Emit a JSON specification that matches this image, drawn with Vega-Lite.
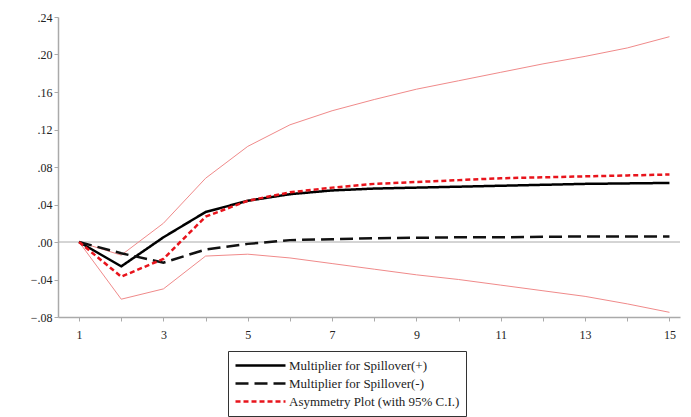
{
  "$schema": "https://vega.github.io/schema/vega-lite/v6.json",
  "autosize": {"type": "none"},
  "width": 622,
  "height": 300,
  "padding": {"left": 58, "top": 17, "right": 11, "bottom": 100},
  "background": "white",
  "config": {
    "view": {"stroke": null},
    "font": "Liberation Serif",
    "axis": {"grid": false, "domainColor": "#aaaaaa", "tickColor": "#aaaaaa", "labelFont": "Liberation Serif", "labelFontSize": 12, "labelColor": "#222222", "tickSize": 4, "domainWidth": 1.5, "labelOverlap": false}
  },
  "datasets": {
    "main": [
      {"h": 1, "s": "Multiplier for Spillover(+)", "v": 0},
      {"h": 2, "s": "Multiplier for Spillover(+)", "v": -0.026},
      {"h": 3, "s": "Multiplier for Spillover(+)", "v": 0.005},
      {"h": 4, "s": "Multiplier for Spillover(+)", "v": 0.032},
      {"h": 5, "s": "Multiplier for Spillover(+)", "v": 0.044},
      {"h": 6, "s": "Multiplier for Spillover(+)", "v": 0.051},
      {"h": 7, "s": "Multiplier for Spillover(+)", "v": 0.055},
      {"h": 8, "s": "Multiplier for Spillover(+)", "v": 0.057},
      {"h": 9, "s": "Multiplier for Spillover(+)", "v": 0.058},
      {"h": 10, "s": "Multiplier for Spillover(+)", "v": 0.059},
      {"h": 11, "s": "Multiplier for Spillover(+)", "v": 0.060},
      {"h": 12, "s": "Multiplier for Spillover(+)", "v": 0.061},
      {"h": 13, "s": "Multiplier for Spillover(+)", "v": 0.062},
      {"h": 14, "s": "Multiplier for Spillover(+)", "v": 0.0625},
      {"h": 15, "s": "Multiplier for Spillover(+)", "v": 0.063},
      {"h": 1, "s": "Multiplier for Spillover(-)", "v": 0},
      {"h": 2, "s": "Multiplier for Spillover(-)", "v": -0.012},
      {"h": 3, "s": "Multiplier for Spillover(-)", "v": -0.022},
      {"h": 4, "s": "Multiplier for Spillover(-)", "v": -0.008},
      {"h": 5, "s": "Multiplier for Spillover(-)", "v": -0.002},
      {"h": 6, "s": "Multiplier for Spillover(-)", "v": 0.002},
      {"h": 7, "s": "Multiplier for Spillover(-)", "v": 0.003},
      {"h": 8, "s": "Multiplier for Spillover(-)", "v": 0.004},
      {"h": 9, "s": "Multiplier for Spillover(-)", "v": 0.0045},
      {"h": 10, "s": "Multiplier for Spillover(-)", "v": 0.005},
      {"h": 11, "s": "Multiplier for Spillover(-)", "v": 0.005},
      {"h": 12, "s": "Multiplier for Spillover(-)", "v": 0.0055},
      {"h": 13, "s": "Multiplier for Spillover(-)", "v": 0.006},
      {"h": 14, "s": "Multiplier for Spillover(-)", "v": 0.006},
      {"h": 15, "s": "Multiplier for Spillover(-)", "v": 0.006},
      {"h": 1, "s": "Asymmetry Plot (with 95% C.I.)", "v": 0},
      {"h": 2, "s": "Asymmetry Plot (with 95% C.I.)", "v": -0.037},
      {"h": 3, "s": "Asymmetry Plot (with 95% C.I.)", "v": -0.018},
      {"h": 4, "s": "Asymmetry Plot (with 95% C.I.)", "v": 0.027},
      {"h": 5, "s": "Asymmetry Plot (with 95% C.I.)", "v": 0.044},
      {"h": 6, "s": "Asymmetry Plot (with 95% C.I.)", "v": 0.053},
      {"h": 7, "s": "Asymmetry Plot (with 95% C.I.)", "v": 0.058},
      {"h": 8, "s": "Asymmetry Plot (with 95% C.I.)", "v": 0.062},
      {"h": 9, "s": "Asymmetry Plot (with 95% C.I.)", "v": 0.064},
      {"h": 10, "s": "Asymmetry Plot (with 95% C.I.)", "v": 0.066},
      {"h": 11, "s": "Asymmetry Plot (with 95% C.I.)", "v": 0.068},
      {"h": 12, "s": "Asymmetry Plot (with 95% C.I.)", "v": 0.069},
      {"h": 13, "s": "Asymmetry Plot (with 95% C.I.)", "v": 0.070},
      {"h": 14, "s": "Asymmetry Plot (with 95% C.I.)", "v": 0.071},
      {"h": 15, "s": "Asymmetry Plot (with 95% C.I.)", "v": 0.072}
    ],
    "ci": [
      {"h": 1, "b": "upper", "v": 0},
      {"h": 2, "b": "upper", "v": -0.014},
      {"h": 3, "b": "upper", "v": 0.02},
      {"h": 4, "b": "upper", "v": 0.068},
      {"h": 5, "b": "upper", "v": 0.102},
      {"h": 6, "b": "upper", "v": 0.125},
      {"h": 7, "b": "upper", "v": 0.140},
      {"h": 8, "b": "upper", "v": 0.152},
      {"h": 9, "b": "upper", "v": 0.163},
      {"h": 10, "b": "upper", "v": 0.172},
      {"h": 11, "b": "upper", "v": 0.181},
      {"h": 12, "b": "upper", "v": 0.190},
      {"h": 13, "b": "upper", "v": 0.198},
      {"h": 14, "b": "upper", "v": 0.207},
      {"h": 15, "b": "upper", "v": 0.219},
      {"h": 1, "b": "lower", "v": 0},
      {"h": 2, "b": "lower", "v": -0.061},
      {"h": 3, "b": "lower", "v": -0.050},
      {"h": 4, "b": "lower", "v": -0.015},
      {"h": 5, "b": "lower", "v": -0.013},
      {"h": 6, "b": "lower", "v": -0.017},
      {"h": 7, "b": "lower", "v": -0.023},
      {"h": 8, "b": "lower", "v": -0.029},
      {"h": 9, "b": "lower", "v": -0.035},
      {"h": 10, "b": "lower", "v": -0.040},
      {"h": 11, "b": "lower", "v": -0.046},
      {"h": 12, "b": "lower", "v": -0.052},
      {"h": 13, "b": "lower", "v": -0.058},
      {"h": 14, "b": "lower", "v": -0.066},
      {"h": 15, "b": "lower", "v": -0.075}
    ],
    "zero": [{"z": 0}]
  },
  "layer": [
    {
      "data": {"name": "zero"},
      "mark": {"type": "rule", "color": "#aaaaaa", "strokeWidth": 1},
      "encoding": {"y": {"field": "z", "type": "quantitative", "scale": {"domain": [-0.08, 0.24]}}}
    },
    {
      "data": {"name": "ci"},
      "mark": {"type": "line", "color": "#f08a8a", "strokeWidth": 1},
      "encoding": {
        "x": {"field": "h", "type": "quantitative"},
        "y": {"field": "v", "type": "quantitative"},
        "detail": {"field": "b"}
      }
    },
    {
      "data": {"name": "main"},
      "mark": {"type": "line", "strokeWidth": 2.5},
      "encoding": {
        "x": {
          "field": "h", "type": "quantitative", "title": null,
          "scale": {"domain": [0.5, 15.25], "nice": false, "zero": false},
          "axis": {"values": [1,2,3,4,5,6,7,8,9,10,11,12,13,14,15], "tickCount": 30, "format": "d", "labelExpr": "datum.value % 2 == 1 ? datum.label : ''", "labelPadding": 8, "labelOverlap": false}
        },
        "y": {
          "field": "v", "type": "quantitative", "title": null,
          "scale": {"domain": [-0.08, 0.24], "nice": false},
          "axis": {"values": [-0.08,-0.04,0,0.04,0.08,0.12,0.16,0.20,0.24], "tickCount": 20, "labelExpr": "replace(format(datum.value, '.2f'), '0.', '.')", "labelOverlap": false}
        },
        "color": {
          "field": "s", "type": "nominal",
          "scale": {"domain": ["Multiplier for Spillover(+)", "Multiplier for Spillover(-)", "Asymmetry Plot (with 95% C.I.)"], "range": ["#000000", "#111111", "#e8141c"]},
          "legend": {
            "title": null, "orient": "none", "legendX": 170, "legendY": 334,
            "symbolType": "stroke", "symbolSize": 2500, "symbolStrokeWidth": 2.5,
            "clipHeight": 17,
            "labelFont": "Liberation Serif", "labelFontSize": 13, "labelColor": "#222222",
            "strokeColor": "#333333", "padding": 6, "rowPadding": 1,
            "labelLimit": 300, "labelOffset": 2
          }
        },
        "strokeDash": {
          "field": "s", "type": "nominal",
          "scale": {"domain": ["Multiplier for Spillover(+)", "Multiplier for Spillover(-)", "Asymmetry Plot (with 95% C.I.)"], "range": [[1, 0], [13, 6], [5, 3]]},
          "legend": null
        }
      }
    }
  ]
}
